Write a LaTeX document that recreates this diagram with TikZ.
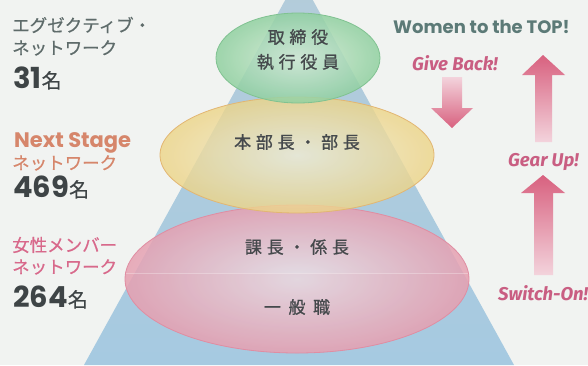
\documentclass[tikz,border=0pt]{standalone}
\usepackage{fontspec}
\usepackage{graphicx}
\newfontfamily\jp{Noto Sans CJK JP}[FakeBold=0.5]
\newfontfamily\jpsp{Noto Sans CJK JP}[LetterSpace=28,FakeBold=1]
\newfontfamily\jpspw{Noto Sans CJK JP}[LetterSpace=45,FakeBold=1]
\newfontfamily\geo{Poppins}
\newfontfamily\fira{Fira Sans}
\definecolor{bgc}{HTML}{F1F3F1}
\definecolor{tealgray}{HTML}{5E6B6A}
\definecolor{salmon}{HTML}{D6866B}
\definecolor{rosetext}{HTML}{D8698B}
\definecolor{numc}{HTML}{3E4446}
\definecolor{womenc}{HTML}{5C7A77}
\definecolor{slogan}{HTML}{C95E82}
\definecolor{arrowdark}{HTML}{D8617F}
\definecolor{arrowlight}{HTML}{F3D3DC}
\definecolor{centertext}{HTML}{45494C}
\definecolor{pyrtop}{HTML}{B4CCDA}
\definecolor{pyrbot}{HTML}{A6CAE1}
\definecolor{greenin}{HTML}{D3EBD4}
\definecolor{greenout}{HTML}{90D0A0}
\definecolor{greenedge}{HTML}{80C291}
\definecolor{yellowin}{HTML}{F2EDD4}
\definecolor{yellowout}{HTML}{EDD486}
\definecolor{yellowedge}{HTML}{E2B672}
\definecolor{pinkin}{HTML}{EDE2E7}
\definecolor{pinkout}{HTML}{E6A0B1}
\definecolor{pinkedge}{HTML}{E08DA2}
\tikzset{
  lefttext/.style={anchor=west, inner sep=0pt, font=\jp\fontsize{17.5}{20}\selectfont},
  numtext/.style={anchor=base west, inner sep=0pt, text=numc},
  ctext/.style={inner sep=0pt, text=centertext, font=\jpsp\fontsize{17}{20}\selectfont},
  slogantext/.style={inner sep=0pt, text=slogan, font=\fira\bfseries\itshape\fontsize{18.5}{20}\selectfont},
  arrowshape/.style={top color=#1, bottom color=arrowdark, draw=none},
}
\begin{document}
\begin{tikzpicture}[x=1pt,y=-1pt]
\useasboundingbox (0,0) rectangle (588,365);
\clip (0,0) rectangle (588,365);
\fill[bgc] (0,0) rectangle (588,365);
% pyramid
\shade[top color=pyrtop, bottom color=pyrbot] (299,-25) -- (514,365) -- (84,365) -- cycle;
% ellipses
\shade[inner color=pinkin, outer color=pinkout, fill opacity=0.85] (297,279) ellipse [x radius=172, y radius=74];
\begin{scope}
\clip (297,279) ellipse [x radius=172, y radius=74];
\fill[pinkout, fill opacity=0.12] (100,273) rectangle (480,360);
\draw[white, opacity=0.3, line width=0.8pt] (120,273) -- (480,273);
\end{scope}
\draw[pinkedge, line width=0.8pt] (297,279) ellipse [x radius=172, y radius=74];
\shade[inner color=yellowin, outer color=yellowout, fill opacity=0.8] (297,155) ellipse [x radius=137, y radius=58];
\draw[yellowedge, line width=0.8pt] (297,155) ellipse [x radius=137, y radius=58];
\shade[inner color=greenin, outer color=greenout, fill opacity=0.85] (298,58) ellipse [x radius=82, y radius=45];
\draw[greenedge, line width=0.8pt] (298,58) ellipse [x radius=82, y radius=45];
% centre labels
\node[ctext] (l1) at (298,37) {取締役\hspace{-0.28em}};
\node[ctext] (l2) at (298,62) {執行役員\hspace{-0.28em}};
\node[ctext] (l3) at (297,142) {本部長・部長\hspace{-0.28em}};
\node[ctext] (l4) at (297,247) {課長・係長\hspace{-0.28em}};
\node[ctext, font=\jpspw\fontsize{17}{20}\selectfont] (l5) at (297,307) {一般職\hspace{-0.45em}};
% left texts
\node[lefttext, text=tealgray] (e1) at (12,25) {エグゼクティブ・};
\node[lefttext, text=tealgray] (e2) at (12,48) {ネットワーク};
\node[numtext] (e3) at (13,88) {{\geo\bfseries\fontsize{29}{30}\selectfont 31}{\jp\fontsize{20}{22}\selectfont 名}};
\node[anchor=base west, inner sep=0pt, text=salmon, font=\geo\bfseries\fontsize{21}{22}\selectfont] (n1) at (14,147) {Next Stage};
\node[lefttext, text=salmon] (n2) at (12,163) {ネットワーク};
\node[numtext] (n3) at (13,197) {{\geo\bfseries\fontsize{29}{30}\selectfont 469}{\jp\fontsize{20}{22}\selectfont 名}};
\node[lefttext, text=rosetext] (w1) at (12,245) {女性メンバー};
\node[lefttext, text=rosetext] (w2) at (12,267) {ネットワーク};
\node[numtext] (w3) at (13,307) {{\geo\bfseries\fontsize{29}{30}\selectfont 264}{\jp\fontsize{20}{22}\selectfont 名}};
% right texts
\node[anchor=base west, inner sep=0pt, text=womenc, font=\geo\bfseries\fontsize{18}{20}\selectfont] (top) at (393,33) {Women to the TOP!};
\node[slogantext, anchor=west] (gb) at (412,63) {Give Back!};
\node[slogantext, anchor=west] (gu) at (508,162) {Gear Up!};
\node[slogantext, anchor=west] (so) at (498,293) {Switch-On!};
% arrows
\shade[arrowshape=arrowlight] (442,77) -- (462,77) -- (462,108) -- (473,108) -- (452,128) -- (431,108) -- (442,108) -- cycle;
\shade[top color=arrowdark, bottom color=arrowlight] (543,55) -- (565,75) -- (552,75) -- (552,142) -- (535,142) -- (535,75) -- (522,75) -- cycle;
\shade[top color=arrowdark, bottom color=arrowlight] (543,175) -- (565,193) -- (553,193) -- (553,275) -- (534,275) -- (534,193) -- (521,193) -- cycle;
\end{tikzpicture}
\end{document}
